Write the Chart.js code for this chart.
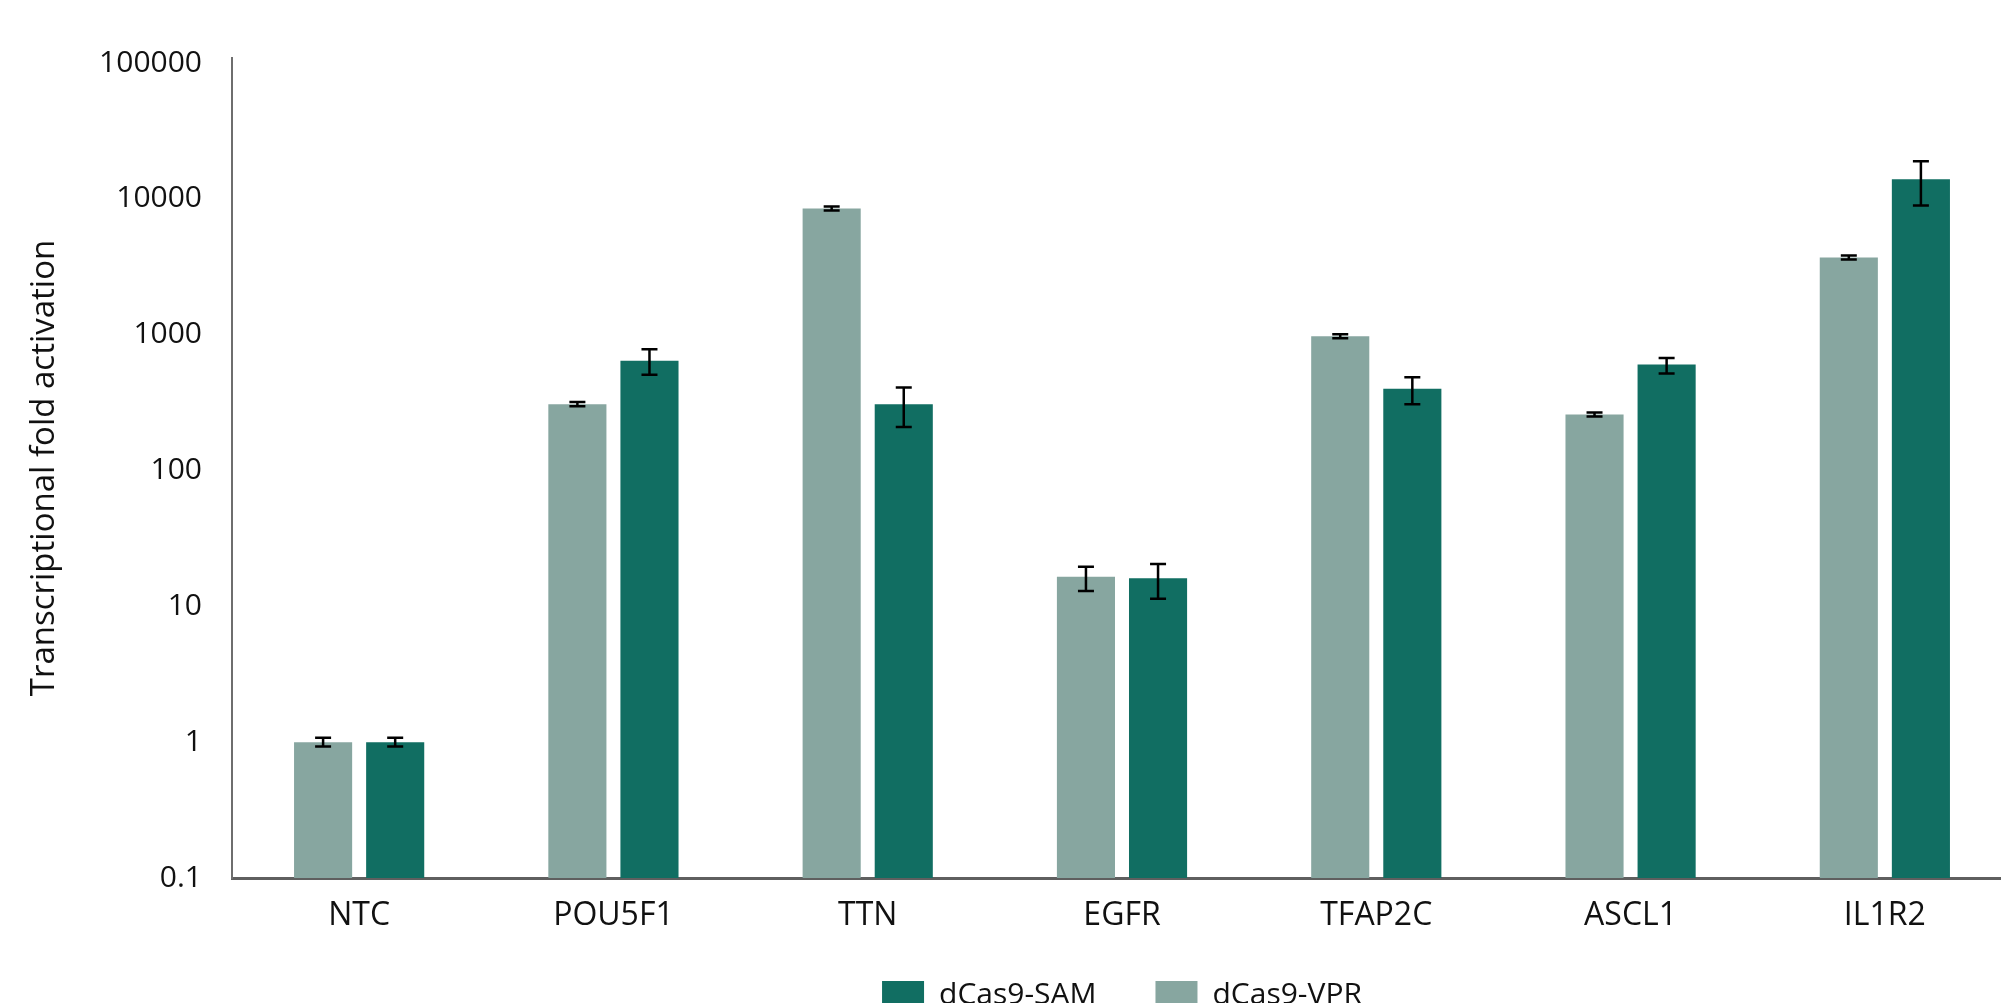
<!DOCTYPE html>
<html>
<head>
<meta charset="utf-8">
<script src="https://cdn.jsdelivr.net/npm/chart.js@4"></script>
<style>
    html, body { margin: 0; padding: 0; background: #fff; }
    .wrap { position: relative; width: 2001px; height: 1003px; overflow: hidden; }
    .wrap canvas { position: absolute; left: 0; top: 0; }
</style>
</head>
<body>
<div class="wrap">
    <canvas id="foldChart" width="2012" height="1047" style="width:2012px;height:1047px"></canvas>
</div>
<script>
// Categories and tick labels
const genes = ['NTC', 'POU5F1', 'TTN', 'EGFR', 'TFAP2C', 'ASCL1', 'IL1R2'];
const yTicks = [0.1, 1, 10, 100, 1000, 10000, 100000];

// dCas9-VPR (light bars)
const vprValues = [1.0, 308, 8510, 16.5, 973, 259, 3700];
const vprLow = [0.93, 298, 8220, 13.0, 940, 250, 3580];
const vprHigh = [1.08, 319, 8810, 19.6, 1007, 268, 3830];

// dCas9-SAM (dark bars)
const samValues = [1.0, 644, 308, 16.1, 400, 604, 13930];
const samLow = [0.93, 508, 209, 11.4, 308, 519, 8950];
const samHigh = [1.08, 783, 408, 20.5, 486, 673, 18900];

const FONT = "'Open Sans', sans-serif";

// Error bars drawn on top of each bar
const errorBarPlugin = {
    id: 'errorBars',
    afterDatasetsDraw(chart) {
        const ctx = chart.ctx;
        const yScale = chart.scales.y;
        chart.data.datasets.forEach((ds, i) => {
            const meta = chart.getDatasetMeta(i);
            meta.data.forEach((bar, j) => {
                const top = yScale.getPixelForValue(ds.errHigh[j]);
                const bottom = yScale.getPixelForValue(ds.errLow[j]);
                const half = 8;
                ctx.save();
                ctx.strokeStyle = '#000';
                ctx.lineWidth = 2.5;
                ctx.beginPath();
                ctx.moveTo(bar.x, top);
                ctx.lineTo(bar.x, bottom);
                ctx.moveTo(bar.x - half, top);
                ctx.lineTo(bar.x + half, top);
                ctx.moveTo(bar.x - half, bottom);
                ctx.lineTo(bar.x + half, bottom);
                ctx.stroke();
                ctx.restore();
            });
        });
    }
};

// Pull the legend up closer to the axis labels
const legendShift = {
    id: 'legendShift',
    afterLayout(chart) {
        if (chart.legend) {
            chart.legend.top -= 27;
            chart.legend.bottom -= 27;
        }
    }
};

new Chart(document.getElementById('foldChart'), {
    type: 'bar',
    data: {
        labels: genes,
        datasets: [{
            label: 'dCas9-VPR',
            data: vprValues,
            errLow: vprLow,
            errHigh: vprHigh,
            backgroundColor: '#87a6a0'
        }, {
            label: 'dCas9-SAM',
            data: samValues,
            errLow: samLow,
            errHigh: samHigh,
            backgroundColor: '#116e62'
        }]
    },
    options: {
        responsive: false,
        animation: false,
        layout: { padding: { top: 58, left: 0, right: 0, bottom: 0 } },
        datasets: {
            bar: { categoryPercentage: 0.567, barPercentage: 0.806 }
        },
        plugins: {
            tooltip: { enabled: false },
            legend: {
                position: 'bottom',
                fullSize: false,
                reverse: true,
                labels: {
                    boxWidth: 42,
                    boxHeight: 28,
                    padding: 59,
                    color: '#111',
                    font: { family: FONT, size: 30 }
                }
            }
        },
        scales: {
            x: {
                grid: { display: false, drawTicks: false },
                border: { display: true, color: '#5f5f5f', width: 3 },
                ticks: { color: '#111', padding: 19, font: { family: FONT, size: 32 } },
                afterFit(scale) { scale.height = 70; }
            },
            y: {
                type: 'logarithmic',
                min: 0.1,
                max: 109000,
                grid: { display: false, drawTicks: false },
                border: { display: true, color: '#6e6e6e', width: 2 },
                afterBuildTicks(scale) {
                    scale.ticks = yTicks.map(v => ({ value: v }));
                },
                ticks: {
                    color: '#111',
                    padding: 30,
                    font: { family: FONT, size: 30 },
                    callback: value => String(value)
                },
                title: {
                    display: true,
                    text: 'Transcriptional fold activation',
                    color: '#111',
                    padding: { top: 25, bottom: 0 },
                    font: { family: FONT, size: 33 }
                },
                afterFit(scale) { scale.width = 232; }
            }
        }
    },
    plugins: [errorBarPlugin, legendShift]
});
</script>
</body>
</html>
